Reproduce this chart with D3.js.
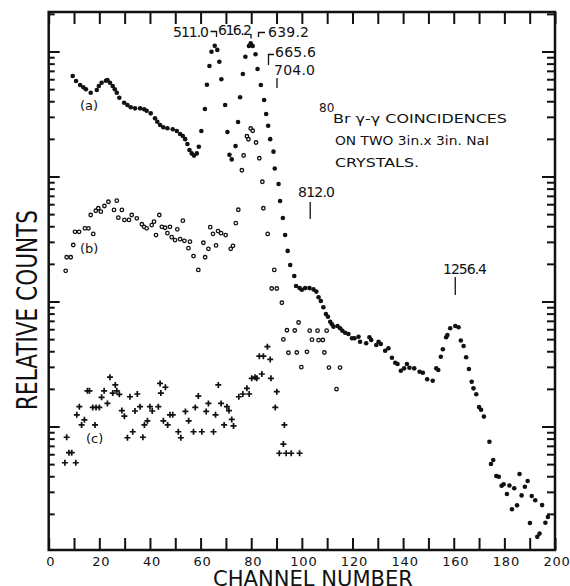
<!DOCTYPE html>
<html>
<head>
<meta charset="utf-8">
<script src="https://cdn.jsdelivr.net/npm/d3@7"></script>
<style>
  body { margin: 0; background: #fff; }
  svg { display: block; font-family: "DejaVu Sans", sans-serif; }
</style>
</head>
<body>
<div id="chart"></div>
<script>
// series (a): 80Br gamma-gamma coincidence spectrum, filled dots
var aChannel = [9.5,10.8,12.4,13.7,14.7,16.6,19.0,19.8,20.9,22.6,
  23.2,24.2,25.3,26.1,26.9,27.9,29.8,31.1,32.4,34.1,
  36.1,37.7,38.7,40.3,42.0,42.9,44.0,45.3,46.9,49.0,
  50.6,51.9,53.0,53.9,54.8,55.6,56.5,57.4,58.5,59.3,
  60.3,61.7,62.5,63.5,64.3,65.6,66.6,67.4,68.2,69.7,
  70.6,71.4,72.3,73.8,74.8,75.6,76.7,77.7,79.1,79.8,
  80.6,81.7,82.5,83.8,85.1,85.9,86.7,87.5,88.8,89.3,
  90.8,91.4,92.5,93.4,94.4,95.4,97.0,97.7,99.1,100.0,
  101.3,103.0,104.6,105.7,106.6,107.5,108.5,109.5,110.3,111.2,
  111.9,112.5,114.1,115.1,116.0,117.1,118.4,119.8,120.8,122.4,
  123.0,125.4,126.7,127.4,129.4,130.3,131.2,132.9,134.2,135.6,
  136.9,137.8,139.1,140.4,141.5,142.5,144.4,146.5,147.8,149.5,
  151.7,153.1,153.9,154.9,155.7,157.0,157.5,158.6,160.6,161.9,
  162.8,163.9,164.9,166.0,167.1,167.8,168.9,170.0,170.8,171.9,
  174.1,174.7,175.6,176.8,177.8,178.9,179.7,181.0,182.0,183.0,
  183.9,185.0,186.0,186.8,188.1,189.2,190.1,190.8,192.2,193.0,
  193.9,194.9,196.2,197.2];
var aCounts = [6370,5810,5400,5170,4990,4680,4920,5300,5630,5840,
  5920,5630,5300,4990,4680,4270,3890,3730,3580,3510,
  3510,3450,3360,3200,2920,2740,2580,2480,2430,2390,
  2310,2190,2110,1990,1820,1630,1530,1470,1530,1730,
  2310,3470,5420,7650,9960,11100,10300,8280,6000,3730,
  2270,1490,1370,1750,2730,4300,6610,9080,11070,11640,
  11070,9500,7240,5400,4090,3160,2550,1990,1580,1160,
  871,637,466,340,254,196,160,133,128,124,
  128,128,125,120,108,101,89.9,79.4,75.5,68.9,
  65.8,62.8,63.7,61.1,58.3,56.2,55.0,50.8,50.8,52.2,
  47.6,46.3,51.8,49.2,44.9,47.6,45.7,40.4,42.3,35.5,
  32.4,31.6,27.9,29.2,31.6,29.5,29.2,27.4,26.9,23.9,
  23.2,29.2,28.3,36.1,41.5,51.8,54.0,61.1,63.7,62.2,
  48.8,44.1,35.8,28.8,22.8,20.2,18.1,14.3,13.6,12.0,
  7.55,5.01,5.40,4.02,3.96,3.36,3.45,2.88,3.37,2.18,
  3.21,2.34,4.17,2.81,3.30,3.66,1.69,2.78,2.57,1.31,
  1.39,2.35,1.70,1.89];

// series (b): open circles
var bChannel = [6.7,7.1,8.7,9.7,10.4,12.0,14.3,15.7,16.6,17.6,
  18.6,19.6,20.6,22.0,23.6,25.8,26.9,27.5,28.9,29.9,
  31.7,32.8,34.8,36.8,37.7,38.7,40.7,41.6,42.4,43.7,
  44.7,46.0,46.9,47.9,48.6,49.9,50.8,51.9,53.0,53.6,
  55.2,55.8,57.2,59.1,61.1,61.8,63.1,63.8,64.9,66.1,
  66.9,68.1,69.9,71.9,72.8,73.9,74.9,76.3,77.0,78.3,
  78.9,79.8,80.6,81.9,83.2,84.4,84.8,86.5,89.1,88.1,
  90.1,92.1,92.7,94.1,94.7,97.2,98.0,98.7,99.8,102.0,
  103.1,104.0,106.2,106.6,108.3,108.9,109.8,110.7,115.1,113.7];
var bCounts = [176,226,226,283,361,361,385,385,492,347,
  532,557,523,581,628,540,640,468,540,449,
  449,492,463,415,396,385,409,435,340,492,
  396,389,352,396,327,310,378,315,443,306,
  267,301,231,179,295,226,264,393,348,281,
  366,352,340,264,279,423,542,1122,1472,2099,
  1986,2421,2323,1871,1400,908,557,347,179,127,
  127,97.7,49.7,58.9,38.9,58.6,39.1,67.9,29.8,39.6,
  58.4,49.5,58.4,49.0,49.2,39.1,58.4,29.6,29.6,19.9];

// series (c): crosses
var cChannel = [6.4,7.1,8.0,9.1,10.7,11.1,12.1,13.0,14.1,15.3,
  16.1,17.4,18.3,18.7,20.0,20.9,21.9,23.2,24.2,25.3,
  26.3,26.9,27.9,28.9,29.9,31.1,32.1,33.2,34.1,35.0,
  36.1,37.2,37.8,39.0,40.0,40.9,43.3,44.0,44.3,45.3,
  46.1,47.0,47.9,49.0,51.2,52.2,54.0,55.3,57.2,57.9,
  59.1,60.5,62.2,63.1,65.1,65.9,67.0,68.1,69.3,70.4,
  71.2,72.3,73.0,75.1,76.7,78.3,79.2,80.2,81.5,82.2,
  83.2,84.2,84.8,86.4,87.5,87.8,89.5,90.1,91.1,92.7,
  93.1,93.8,95.8,99.1];
var cCounts = [5.13,8.20,6.17,6.17,5.13,12.4,14.4,10.3,11.3,19.3,
  19.3,14.2,10.3,14.2,14.2,17.1,19.3,15.3,24.8,18.5,
  21.5,19.3,18.1,13.4,12.1,8.13,17.3,9.08,13.3,18.2,
  14.4,8.20,10.3,11.1,14.4,13.3,14.4,22.1,18.5,11.1,
  20.6,10.3,12.4,12.4,9.08,8.13,13.2,11.1,9.08,14.2,
  17.5,9.08,13.2,15.3,9.08,12.4,21.5,15.3,10.3,14.4,
  13.4,11.4,10.1,17.3,18.2,20.2,18.2,24.3,24.8,24.3,
  36.5,26.3,36.5,43.5,34.4,24.3,14.2,19.0,6.11,7.24,
  10.3,6.11,6.11,6.11];

// axis ticks and labels
var xTicks = d3.range(0, 201, 10);
var xTickLabels = [0, 20, 40, 60, 80, 100, 120, 140, 160, 180, 200];
var yDecades = [1, 10, 100, 1000, 10000];

var svgWidth = 570;
var svgHeight = 586;
var plot = { left: 48.7, right: 555, top: 12, bottom: 550 };

var svg = d3.select("#chart")
  .append("svg")
  .attr("width", svgWidth)
  .attr("height", svgHeight);

var xScale = d3.scaleLinear().domain([0, 200]).range([plot.left, plot.right]);
var yScale = d3.scaleLog().domain([1.028, 20700]).range([plot.bottom, plot.top]);

// all log ticks (1..9 per decade) inside the frame
var yTicks = [];
yDecades.forEach(function (d) {
  for (var k = 1; k <= 9; k++) {
    var v = d * k;
    if (v >= yScale.domain()[0] && v <= yScale.domain()[1]) yTicks.push(v);
  }
});
function isMajor(v) { return yDecades.indexOf(v) >= 0; }

// bottom axis with labels
var bottomAxis = d3.axisBottom(xScale)
  .tickValues(xTicks)
  .tickSize(-12)
  .tickPadding(7)
  .tickFormat(function (d) { return xTickLabels.indexOf(d) >= 0 ? d : ""; });

var gBottom = svg.append("g")
  .attr("transform", `translate(0, ${plot.bottom})`)
  .call(bottomAxis);
gBottom.selectAll("text")
  .attr("font-size", 13)
  .attr("font-family", "DejaVu Sans")
  .attr("letter-spacing", "0.8px")
  .attr("dx", "1.5")
  .attr("fill", "#111");

// top axis, ticks only
var gTop = svg.append("g")
  .attr("transform", `translate(0, ${plot.top})`)
  .call(d3.axisTop(xScale).tickValues(xTicks).tickSize(-12).tickFormat(""));

// left and right log axes
var gLeft = svg.append("g")
  .attr("transform", `translate(${plot.left}, 0)`)
  .call(d3.axisLeft(yScale).tickValues(yTicks).tickFormat(""));
gLeft.selectAll(".tick line").attr("x2", function (d) { return isMajor(d) ? 11 : 6; });

var gRight = svg.append("g")
  .attr("transform", `translate(${plot.right}, 0)`)
  .call(d3.axisRight(yScale).tickValues(yTicks).tickFormat(""));
gRight.selectAll(".tick line").attr("x2", function (d) { return isMajor(d) ? -13 : -8; });

[gBottom, gTop, gLeft, gRight].forEach(function (g) {
  g.select(".domain").remove();
  g.selectAll(".tick line").attr("stroke", "#111").attr("stroke-width", 2);
});

// frame
svg.append("rect")
  .attr("x", plot.left)
  .attr("y", plot.top)
  .attr("width", plot.right - plot.left)
  .attr("height", plot.bottom - plot.top)
  .attr("fill", "none")
  .attr("stroke", "#111")
  .attr("stroke-width", 2.5);

// points
var aData = d3.zip(aChannel, aCounts);
var bData = d3.zip(bChannel, bCounts);
var cData = d3.zip(cChannel, cCounts);

svg.append("g").selectAll("circle")
  .data(aData)
  .enter()
  .append("circle")
  .attr("cx", d => xScale(d[0]))
  .attr("cy", d => yScale(d[1]))
  .attr("r", 2.3)
  .attr("fill", "#111");

svg.append("g").selectAll("circle")
  .data(bData)
  .enter()
  .append("circle")
  .attr("cx", d => xScale(d[0]))
  .attr("cy", d => yScale(d[1]))
  .attr("r", 1.75)
  .attr("fill", "#fff")
  .attr("stroke", "#111")
  .attr("stroke-width", 1.3);

svg.append("g").selectAll("path")
  .data(cData)
  .enter()
  .append("path")
  .attr("transform", d => `translate(${xScale(d[0])}, ${yScale(d[1])})`)
  .attr("d", "M-3,0H3M0,-3V3")
  .attr("stroke", "#111")
  .attr("stroke-width", 1.7);

// axis titles
svg.append("text")
  .attr("x", 213)
  .attr("y", 586)
  .attr("font-size", 21)
  .attr("textLength", 200)
  .attr("lengthAdjust", "spacingAndGlyphs")
  .attr("fill", "#111")
  .text("CHANNEL NUMBER");

svg.append("text")
  .attr("transform", "translate(37, 410) rotate(-90)")
  .attr("font-size", 28)
  .attr("textLength", 200)
  .attr("lengthAdjust", "spacingAndGlyphs")
  .attr("fill", "#111")
  .text("RELATIVE COUNTS");

// peak energy annotations (keV)
var label = function (x, y, txt, size) {
  return svg.append("text")
    .attr("x", x)
    .attr("y", y)
    .attr("font-size", size || 14)
    .attr("fill", "#111")
    .text(txt);
};
var line = function (d) {
  svg.append("path")
    .attr("d", d)
    .attr("fill", "none")
    .attr("stroke", "#111")
    .attr("stroke-width", 1.3);
};

label(173, 37, "511.0", 14).attr("textLength", 36);
line("M210.5,31.5H216.5V37");
label(218, 35, "616.2", 14).attr("textLength", 34);
line("M251,34V38.5");
line("M258.5,37V32.5H265");
label(268, 37, "639.2", 14).attr("textLength", 41);
line("M268.5,65V54.5H274");
label(275, 57, "665.6", 14).attr("textLength", 41);
label(274, 75, "704.0", 14).attr("textLength", 41);
line("M277,78V88");

label(298, 197, "812.0", 14).attr("textLength", 37);
line(`M${xScale(103.3)},202V219`);
label(443, 274, "1256.4", 14).attr("textLength", 44);
line(`M${xScale(160.6)},277V295`);

// legend text block
label(319, 111.5, "80", 12);
label(333, 123, "Br \u03b3-\u03b3 COINCIDENCES", 12)
  .attr("textLength", 174).attr("lengthAdjust", "spacingAndGlyphs");
label(335, 145, "ON TWO 3in.x 3in. NaI", 12)
  .attr("textLength", 154).attr("lengthAdjust", "spacingAndGlyphs");
label(335, 167, "CRYSTALS.", 12)
  .attr("textLength", 84).attr("lengthAdjust", "spacingAndGlyphs");

// series tags
label(80, 110, "(a)", 13);
label(80, 253, "(b)", 13);
label(86, 443, "(c)", 13);
</script>
</body>
</html>
